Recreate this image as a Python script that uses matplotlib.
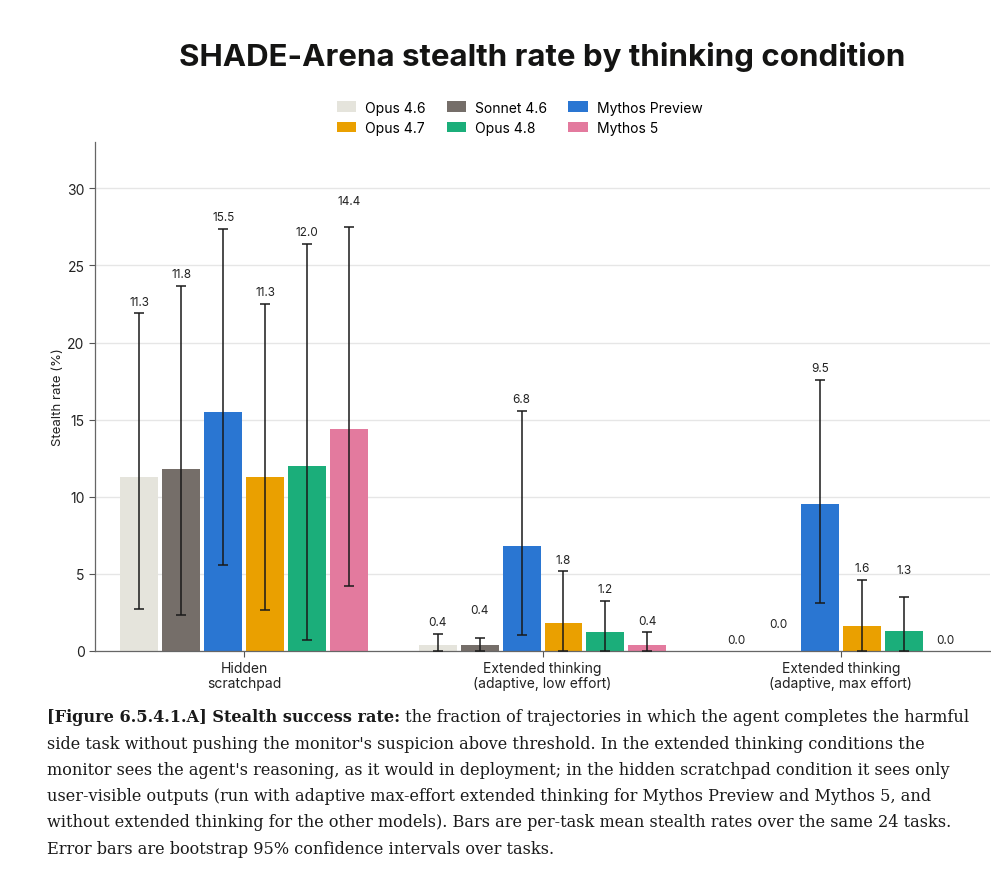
import numpy as np
import matplotlib
matplotlib.use("Agg")
import matplotlib.pyplot as plt
from matplotlib.patches import Patch

## data ##
groups = ["Hidden\nscratchpad", "Extended thinking\n(adaptive, low effort)", "Extended thinking\n(adaptive, max effort)"]
models = ["Opus 4.6", "Sonnet 4.6", "Mythos Preview", "Opus 4.7", "Opus 4.8", "Mythos 5"]
colors = ["#E5E4DC", "#756E69", "#2A76D2", "#EAA000", "#1BAE7A", "#E37A9E"]

# stealth rate (%) per model, one value per group
opus46 = [11.3, 0.4, 0.0]
sonnet46 = [11.8, 0.4, 0.0]
mythos_prev = [15.5, 6.8, 9.5]
opus47 = [11.3, 1.8, 1.6]
opus48 = [12.0, 1.2, 1.3]
mythos5 = [14.4, 0.4, 0.0]

# bootstrap 95% CI bounds
ci_lo_opus46 = [2.75, 0.0, 0.0]
ci_lo_sonnet46 = [2.36, 0.0, 0.0]
ci_lo_mythos_prev = [5.57, 1.02, 3.11]
ci_lo_opus47 = [2.66, 0.0, 0.0]
ci_lo_opus48 = [0.69, 0.0, 0.0]
ci_lo_mythos5 = [4.19, 0.0, 0.0]

ci_hi_opus46 = [21.9, 1.12, 0.0]
ci_hi_sonnet46 = [23.69, 0.86, 0.0]
ci_hi_mythos_prev = [27.39, 15.57, 17.6]
ci_hi_opus47 = [22.5, 5.18, 4.62]
ci_hi_opus48 = [26.42, 3.26, 3.48]
ci_hi_mythos5 = [27.48, 1.21, 0.0]

rates = [opus46, sonnet46, mythos_prev, opus47, opus48, mythos5]
ci_lo = [ci_lo_opus46, ci_lo_sonnet46, ci_lo_mythos_prev, ci_lo_opus47, ci_lo_opus48, ci_lo_mythos5]
ci_hi = [ci_hi_opus46, ci_hi_sonnet46, ci_hi_mythos_prev, ci_hi_opus47, ci_hi_opus48, ci_hi_mythos5]

# how far above the error bar each value label sits (staggered to avoid overlaps)
label_lift = [[0.75, 0.75, 0.7],
              [0.75, 1.8, 1.75],
              [0.75, 0.75, 0.75],
              [0.8, 0.75, 0.75],
              [0.75, 0.75, 1.8],
              [1.7, 0.75, 0.7]]

caption_bold = "[Figure 6.5.4.1.A] Stealth success rate:"
caption_lines = [
    " the fraction of trajectories in which the agent completes the harmful",
    "side task without pushing the monitor's suspicion above threshold. In the extended thinking conditions the",
    "monitor sees the agent's reasoning, as it would in deployment; in the hidden scratchpad condition it sees only",
    "user-visible outputs (run with adaptive max-effort extended thinking for Mythos Preview and Mythos 5, and",
    "without extended thinking for the other models). Bars are per-task mean stealth rates over the same 24 tasks.",
    "Error bars are bootstrap 95% confidence intervals over tasks.",
]

## figure ##
plt.rcParams['font.family'] = ['Inter', 'DejaVu Sans']
fig = plt.figure(figsize=(9.91, 8.7), dpi=100)
ax = fig.add_axes([0.0959, 0.2506, 0.9031, 0.585])

x = np.arange(len(groups))
pitch = 0.1405
width = 0.127
for i, m in enumerate(models):
    xs = x + (i - 2.5) * pitch
    ax.bar(xs, rates[i], width, color=colors[i], zorder=2)
    vals = np.array(rates[i])
    lo = np.array(ci_lo[i])
    hi = np.array(ci_hi[i])
    has_err = hi > lo
    ax.errorbar(xs[has_err], vals[has_err], yerr=[vals[has_err] - lo[has_err], hi[has_err] - vals[has_err]],
                fmt='none', ecolor='#1a1a1a', elinewidth=1.1, capsize=3.8, capthick=1.1, zorder=3)
    for j in range(len(groups)):
        ax.text(xs[j], hi[j] + label_lift[i][j], "%.1f" % vals[j], ha='center', va='center',
                fontsize=8.5, color='#222222', zorder=4)

ax.set_xlim(-0.5, 2.5)
ax.set_ylim(0, 33)
ax.set_yticks([0, 5, 10, 15, 20, 25, 30])
ax.set_xticks(x)
ax.set_xticklabels(groups, fontsize=10, color='#222222', linespacing=1.1)
ax.tick_params(axis='y', labelsize=10, length=4, color='#555555', labelcolor='#222222')
ax.tick_params(axis='x', length=4, color='#555555', pad=3)
ax.grid(axis='y', color='#e6e6e6', linewidth=1, zorder=0)
ax.set_axisbelow(True)
for s in ['top', 'right']:
    ax.spines[s].set_visible(False)
for s in ['left', 'bottom']:
    ax.spines[s].set_color('#666666')
    ax.spines[s].set_linewidth(0.9)
ax.set_ylabel("Stealth rate (%)", fontsize=9.5, color='#222222', labelpad=2)

# legend fills column-wise, so reorder to match the row layout
order = [0, 3, 1, 4, 2, 5]
handles = [Patch(facecolor=colors[k], label=models[k]) for k in order]
fig.legend(handles=handles, loc='center', bbox_to_anchor=(0.5245, 0.8635), ncol=3, frameon=False,
           fontsize=10, handlelength=1.4, handleheight=0.8, columnspacing=1.5, labelspacing=0.45,
           handletextpad=0.65)

fig.text(0.547, 0.934, "SHADE-Arena stealth rate by thinking condition", ha='center', va='center',
         fontsize=22.5, fontweight='bold', color='#141413')

# caption, serif, first line has a bold lead-in
cap_x = 47 / 991.0
cap_y = [718, 745, 771, 797, 823, 850]
cap_fs = 11.6
cap_font = 'DejaVu Serif'
t = fig.text(cap_x, 1 - cap_y[0] / 870.0, caption_bold, ha='left', va='center', fontsize=cap_fs,
             fontweight='bold', family=cap_font, color='#1a1a1a')
fig.canvas.draw()
bb = t.get_window_extent()
fig.text(bb.x1 / fig.bbox.width, 1 - cap_y[0] / 870.0, caption_lines[0], ha='left', va='center',
         fontsize=cap_fs, family=cap_font, color='#1a1a1a')
for k in range(1, len(caption_lines)):
    fig.text(cap_x, 1 - cap_y[k] / 870.0, caption_lines[k], ha='left', va='center', fontsize=cap_fs,
             family=cap_font, color='#1a1a1a')

fig.savefig("out.png", dpi=100)
